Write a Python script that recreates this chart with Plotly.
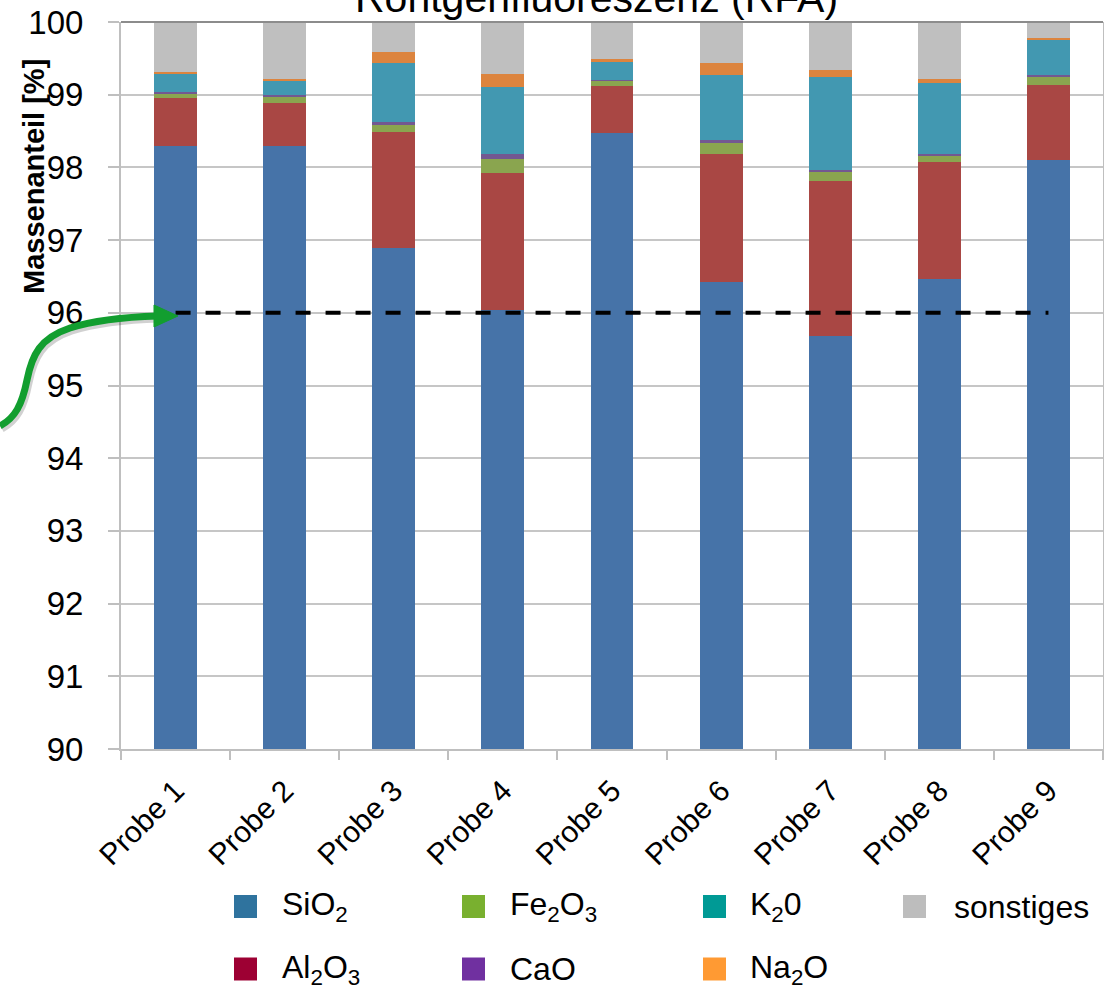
import plotly.graph_objects as go

# ---- data -------------------------------------------------------------
probes = ["Probe 1", "Probe 2", "Probe 3", "Probe 4", "Probe 5",
          "Probe 6", "Probe 7", "Probe 8", "Probe 9"]

sio2 = [98.30, 98.29, 96.89, 96.04, 98.48, 96.43, 95.68, 96.46, 98.10]
al2o3 = [0.65, 0.60, 1.60, 1.88, 0.64, 1.76, 2.13, 1.61, 1.03]
fe2o3 = [0.065, 0.08, 0.10, 0.20, 0.07, 0.15, 0.13, 0.10, 0.11]
cao = [0.02, 0.02, 0.03, 0.07, 0.01, 0.04, 0.03, 0.02, 0.03]
k2o = [0.25, 0.20, 0.81, 0.91, 0.25, 0.89, 1.28, 0.97, 0.48]
na2o = [0.03, 0.02, 0.16, 0.19, 0.035, 0.16, 0.09, 0.06, 0.03]
sonstiges = [0.685, 0.79, 0.41, 0.71, 0.515, 0.57, 0.66, 0.78, 0.22]

threshold = 96.0

series_names = ["SiO<sub>2</sub>", "Al<sub>2</sub>O<sub>3</sub>", "Fe<sub>2</sub>O<sub>3</sub>",
                "CaO", "K<sub>2</sub>0", "Na<sub>2</sub>O", "sonstiges"]
series_values = [sio2, al2o3, fe2o3, cao, k2o, na2o, sonstiges]
bar_colors = ["#4673A8", "#A94744", "#8AA54F", "#735891", "#4298B1", "#DC843E", "#BFBFBF"]
key_colors = ["#2F739E", "#9D0033", "#79B02F", "#7030A0", "#009A95", "#FF9A33", "#BDBDBD"]

y_ticks = list(range(90, 101))

# ---- geometry of the plotting area (pixels) ---------------------------
W, H = 1104, 990
L, R, T, B = 121, 1, 22, 241
PW, PH = W - L - R, H - T - B


def px(x, y):
    """pixel position -> paper coordinates"""
    return (x - L) / PW, (H - B - y) / PH


FONT = "Liberation Sans, Arial, sans-serif"

fig = go.Figure()

for name, vals, col in zip(series_names, series_values, bar_colors):
    fig.add_trace(go.Bar(x=probes, y=vals, name=name, marker_color=col,
                         marker_line_width=0))

# dashed reference line at 96 %
fig.add_trace(go.Scatter(x=[probes[0], probes[-1]], y=[threshold, threshold],
                         mode="lines", line=dict(color="black", width=4, dash="15px,15px"),
                         hoverinfo="skip"))

shapes = []
annotations = []

# white patch between axis and first bar
x0, y0 = px(122, 457)
x1, y1 = px(152, 289)
shapes.append(dict(type="rect", xref="paper", yref="paper", x0=x0, x1=x1, y0=y0, y1=y1,
                   fillcolor="white", line_width=0, layer="between"))

# darker top border
shapes.append(dict(type="line", xref="paper", yref="paper", x0=0, x1=1, y0=1, y1=1,
                   line=dict(color="#8C8C8C", width=2)))


def path_str(segments):
    out = []
    for cmd, pts in segments:
        coords = " ".join("%.5f,%.5f" % px(*p) for p in pts)
        out.append(cmd + " " + coords if coords else cmd)
    return " ".join(out)


curve = [("M", [(0, 426)]),
         ("C", [(15, 418), (22, 405), (27, 380)]),
         ("C", [(32, 355), (40, 338), (70, 328)]),
         ("C", [(95, 320), (125, 317), (158, 316)])]
head = [("M", [(154, 305)]), ("L", [(178, 316)]), ("L", [(154, 327)]), ("Z", [])]

shadow = [(c, [(x + 2, y + 3) for x, y in p]) for c, p in curve]
shapes.append(dict(type="path", xref="paper", yref="paper", path=path_str(shadow),
                   line=dict(color="rgba(0,0,0,0.18)", width=7)))
shapes.append(dict(type="path", xref="paper", yref="paper", path=path_str(curve),
                   line=dict(color="#129E2F", width=7)))
shapes.append(dict(type="path", xref="paper", yref="paper", path=path_str(head),
                   fillcolor="#129E2F", line=dict(color="#129E2F", width=1)))

# title (partly above the page edge)
tx, ty = px(596, -2)
annotations.append(dict(text="Röntgenfluoreszenz (RFA)", xref="paper", yref="paper",
                        x=tx, y=ty, xanchor="center", yanchor="middle", showarrow=False,
                        font=dict(size=41, family=FONT, color="black")))

# y axis title
ax, ay = px(34, 177)
annotations.append(dict(text="<b>Massenanteil [%]</b>", xref="paper", yref="paper",
                        x=ax, y=ay, xanchor="center", yanchor="middle", textangle=-90,
                        showarrow=False, font=dict(size=29, family=FONT, color="black")))

# legend (two rows, filled column by column)
swatch_x = [234, 462, 703, 903]
text_x = [280, 508, 748, 952]
row_y = [906.5, 969]
sw = 23
for i, (name, col) in enumerate(zip(series_names, key_colors)):
    c, r = divmod(i, 2)
    sx0, sy0 = px(swatch_x[c], row_y[r] + sw / 2)
    sx1, sy1 = px(swatch_x[c] + sw, row_y[r] - sw / 2)
    shapes.append(dict(type="rect", xref="paper", yref="paper", x0=sx0, x1=sx1,
                       y0=sy0, y1=sy1, fillcolor=col, line_width=0))
    lx, ly = px(text_x[c], row_y[r])
    annotations.append(dict(text=name, xref="paper", yref="paper", x=lx, y=ly,
                            xanchor="left", yanchor="middle", showarrow=False,
                            font=dict(size=32, family=FONT, color="black")))

fig.update_layout(
    width=W, height=H,
    margin=dict(l=L, r=R, t=T, b=B, autoexpand=False),
    barmode="stack", bargap=0.606,
    showlegend=False,
    plot_bgcolor="white", paper_bgcolor="white",
    font=dict(family=FONT, color="black"),
    shapes=shapes, annotations=annotations,
)

fig.update_xaxes(type="category", range=[-0.5, 8.5], tickson="boundaries",
                 ticks="outside", ticklen=9, tickwidth=2, tickcolor="#BFBFBF",
                 showline=True, linecolor="#BFBFBF", linewidth=2,
                 showgrid=False, tickangle=-45, ticklabelstandoff=10,
                 tickfont=dict(size=30, family=FONT, color="black"), automargin=False)

fig.update_yaxes(range=[90, 100], tickvals=y_ticks, ticktext=[str(v) for v in y_ticks],
                 ticks="outside", ticklen=11, tickwidth=2, tickcolor="#BFBFBF",
                 showline=True, linecolor="#BFBFBF", linewidth=2, mirror=True,
                 showgrid=True, gridcolor="#C6C6C6", gridwidth=2,
                 zeroline=False, ticklabelstandoff=18,
                 tickfont=dict(size=33, family=FONT, color="black"), automargin=False)

fig.write_html("out.html")
